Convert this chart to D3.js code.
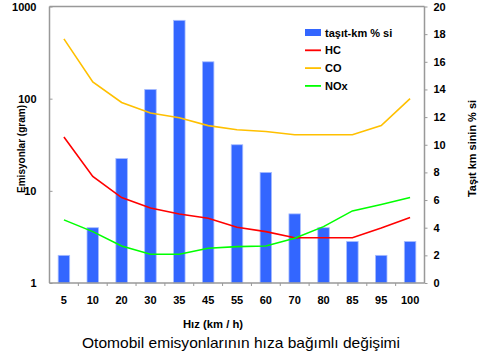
<!DOCTYPE html>
<html><head><meta charset="utf-8">
<script src="https://cdn.jsdelivr.net/npm/d3@7"></script>
<style>body{margin:0;background:#fff}svg{display:block}text{font-family:"Liberation Sans",Arial,sans-serif}</style>
</head><body><svg id="c" width="483" height="359"></svg>
<script>
const speeds = ["5","10","20","30","35","45","55","60","70","80","85","95","100"];
const taşıtKm = [2,4,9,14,19,16,10,8,5,4,3,2,3];
const HC  = [38.3,14.3,8.45,6.5,5.6,5.05,4.03,3.61,3.1,3.1,3.1,3.95,5.13];
const CO  = [445,152,91,70,62,51,46,44,40.6,40.6,40.6,51,100];
const NOx = [4.84,3.61,2.52,2.05,2.05,2.38,2.48,2.52,3.06,4.09,6.06,7.1,8.45];
const leftTicks = [1,10,100,1000];
const rightTicks = [0,2,4,6,8,10,12,14,16,18,20];

const svg = d3.select("#c");
const L=49.5, R=424.5, T=6.5, B=283;
const x = d3.scaleBand().domain(speeds).range([L,R]).padding(0);
const yL = d3.scaleLog().domain([1,1000]).range([B,T]);
const yR = d3.scaleLinear().domain([0,20]).range([B,T]);
const cx = d => x(d)+x.bandwidth()/2;
const bw = 11.5;

// frame
svg.append("line").attr("x1",L).attr("x2",R).attr("y1",T).attr("y2",T).attr("stroke","#999").attr("stroke-width",1.5);

// bars
svg.append("g").selectAll("rect").data(speeds).join("rect")
  .attr("x",(d)=>cx(d)-bw/2).attr("width",bw)
  .attr("y",(d,i)=>yR(taşıtKm[i])).attr("height",(d,i)=>B-yR(taşıtKm[i]))
  .attr("fill","#3366FF").attr("stroke","#a8bdff").attr("stroke-width",0.8);

// lines
const series=[{v:HC,c:"#FF0000"},{v:CO,c:"#FFC000"},{v:NOx,c:"#00FF00"}];
const line=d3.line().x(d=>cx(d[0])).y(d=>yL(d[1]));
series.forEach(s=>{
  svg.append("path").datum(speeds.map((sp,i)=>[sp,s.v[i]]))
    .attr("d",line).attr("fill","none").attr("stroke",s.c).attr("stroke-width",1.6);
});

// axes
const axL = d3.axisLeft(yL).tickValues(leftTicks).tickFormat(d3.format("d")).tickSize(-3).tickPadding(13);
const gL = svg.append("g").attr("transform",`translate(${L},0)`).call(axL);
const axR = d3.axisRight(yR).tickValues(rightTicks).tickSize(3).tickPadding(6);
const gR = svg.append("g").attr("transform",`translate(${R},0)`).call(axR);
const axB = d3.axisBottom(x).tickSize(0).tickPadding(13);
const gB = svg.append("g").attr("transform",`translate(0,${B})`).call(axB);
[gL,gR,gB].forEach(g=>{
  g.select(".domain").attr("stroke","#999").attr("stroke-width",1.5);
  g.selectAll(".tick line").attr("stroke","#999");
  g.selectAll("text").attr("fill","#000").style("font-size","11px").style("font-weight","bold").style("font-family","'Liberation Sans',Arial,sans-serif");
});
gL.select(".domain").attr("d",`M0,${B}V${T}`);
gR.select(".domain").attr("d",`M0,${B}V${T}`);
gB.select(".domain").attr("d",`M${L},0H${R}`);
// bottom small ticks at band boundaries
svg.append("g").selectAll("line").data(speeds.slice(1)).join("line")
  .attr("x1",d=>x(d)).attr("x2",d=>x(d)).attr("y1",B).attr("y2",B+3).attr("stroke","#999");

// titles
svg.append("text").attr("transform","translate(24.5,149) rotate(-90)").attr("text-anchor","middle")
  .attr("textLength",88).attr("lengthAdjust","spacingAndGlyphs")
  .style("font-size","11.5px").style("font-weight","bold").text("Emisyonlar  (gram)");
svg.append("text").attr("transform","translate(476,148.5) rotate(-90)").attr("text-anchor","middle")
  .attr("textLength",97).attr("lengthAdjust","spacingAndGlyphs")
  .style("font-size","11.5px").style("font-weight","bold").text("Taşıt km sinin % si");
svg.append("text").attr("x",213).attr("y",327.5).attr("text-anchor","middle")
  .attr("textLength",60).attr("lengthAdjust","spacingAndGlyphs")
  .style("font-size","11px").style("font-weight","bold").text("Hız  (km / h)");
svg.append("text").attr("x",241).attr("y",348).attr("text-anchor","middle")
  .attr("textLength",318).attr("lengthAdjust","spacingAndGlyphs")
  .style("font-size","14.5px").text("Otomobil emisyonlarının hıza bağımlı değişimi");

// legend
const lg = svg.append("g");
const items=[{n:"taşıt-km % si",t:"bar",c:"#3366FF"},{n:"HC",t:"line",c:"#FF0000"},{n:"CO",t:"line",c:"#FFC000"},{n:"NOx",t:"line",c:"#00FF00"}];
items.forEach((it,i)=>{
  const y=32.5+i*17.8;
  if(it.t==="bar") lg.append("rect").attr("x",305).attr("y",y-3.5).attr("width",16).attr("height",7).attr("fill",it.c);
  else lg.append("line").attr("x1",305).attr("x2",321).attr("y1",y).attr("y2",y).attr("stroke",it.c).attr("stroke-width",1.8);
  lg.append("text").attr("x",325).attr("y",y+4).style("font-size","11px").style("font-weight","bold").text(it.n);
});
</script></body></html>
